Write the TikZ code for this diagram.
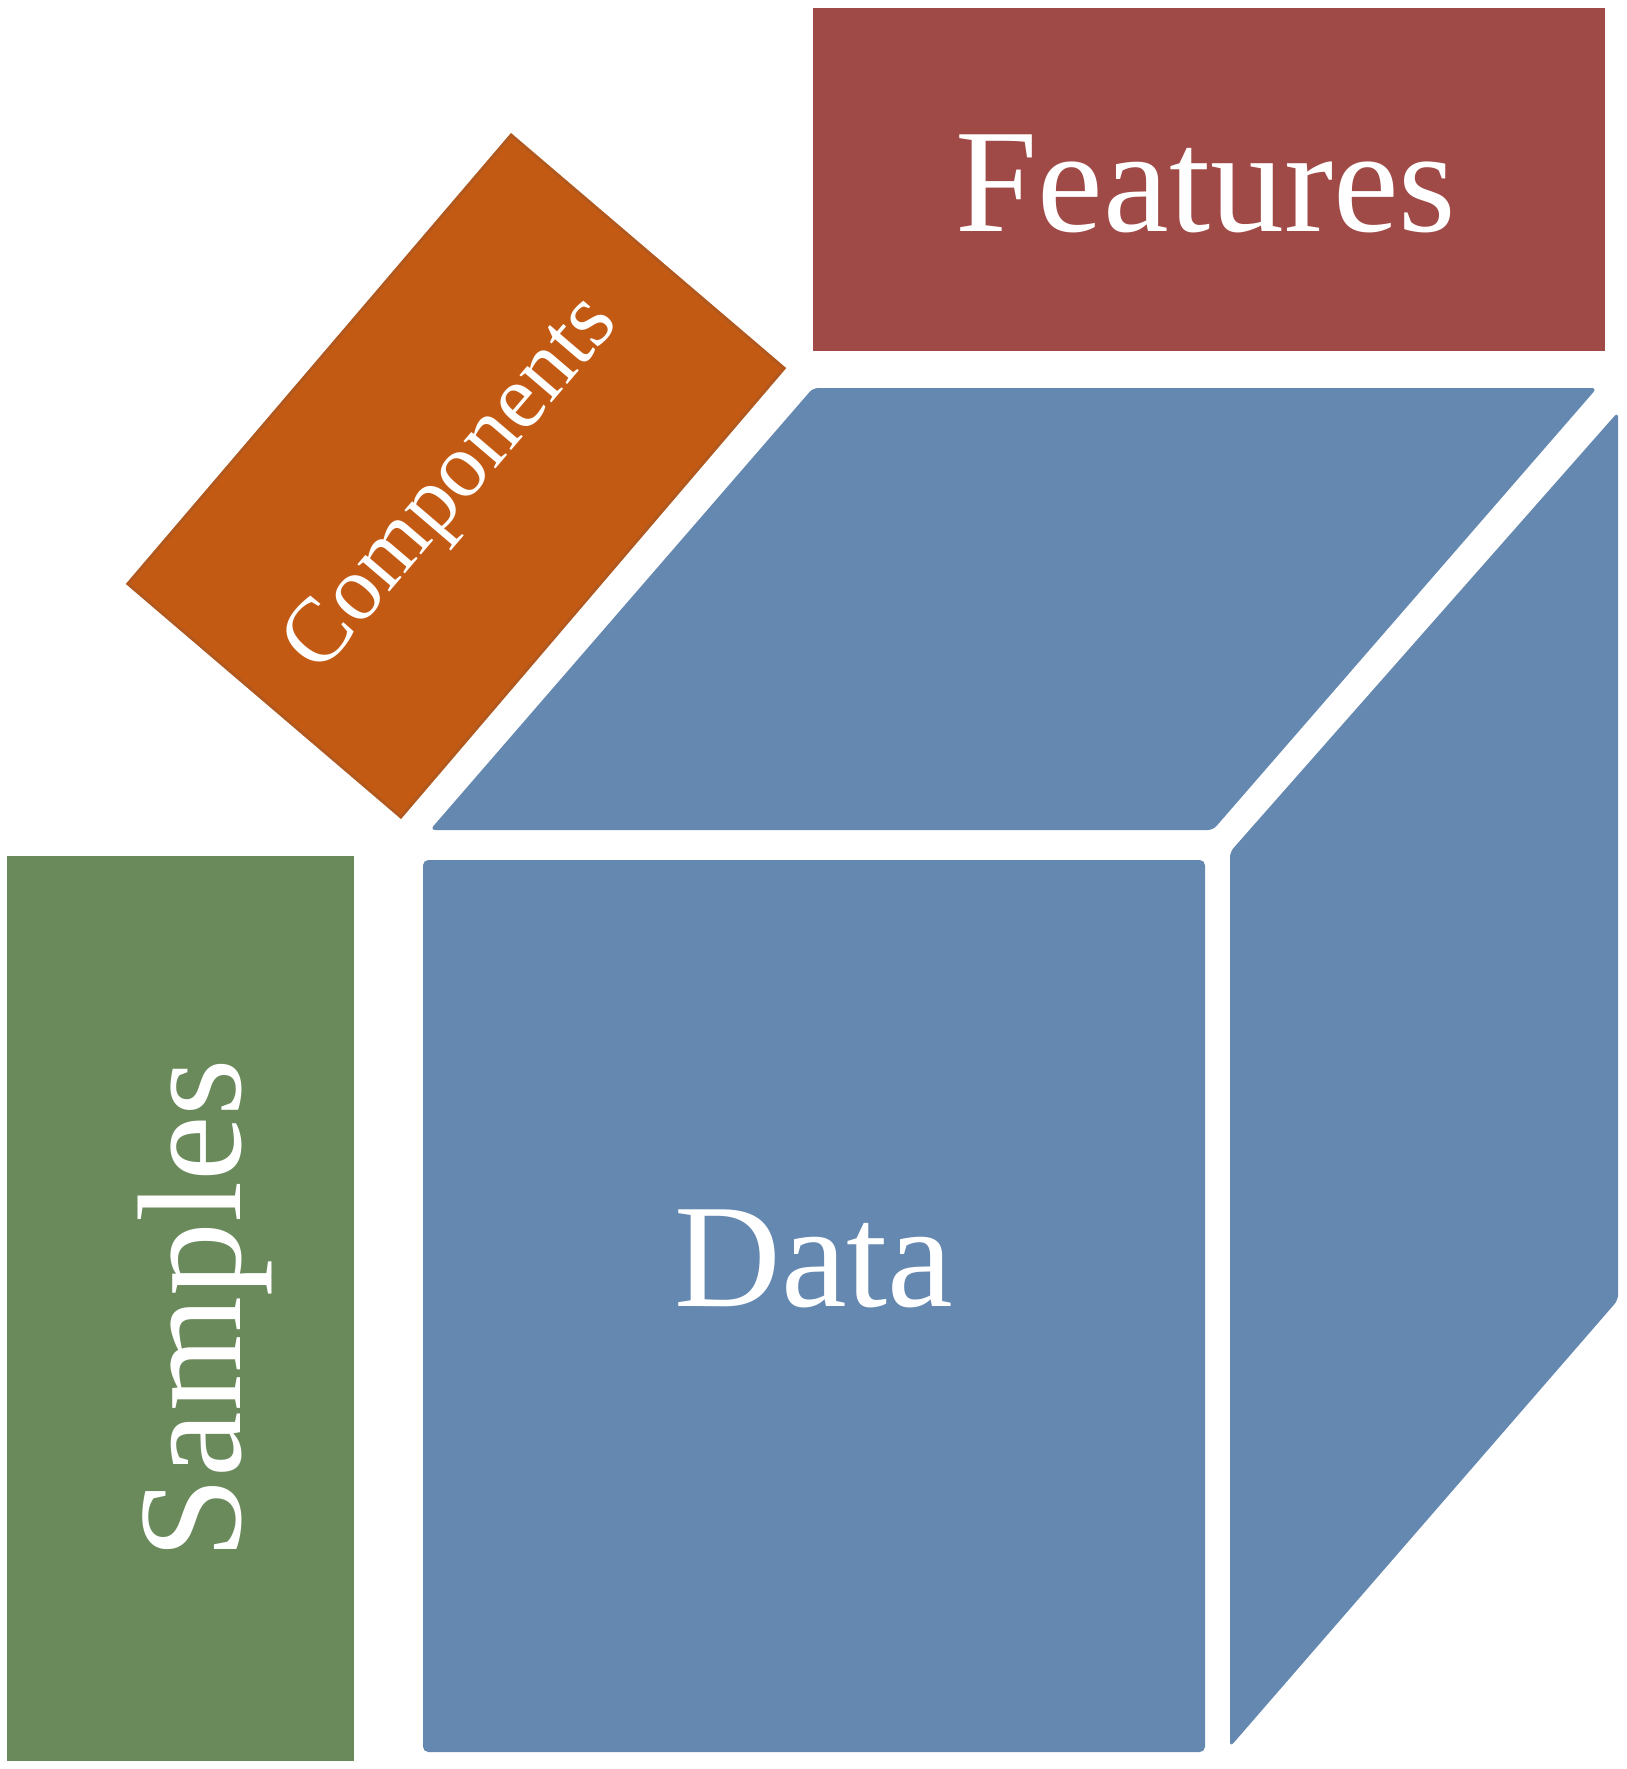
\documentclass[tikz,border=0pt]{standalone}
\usepackage{fontspec}
\setmainfont{Liberation Serif}
\definecolor{featred}{HTML}{A04A48}
\definecolor{comporange}{HTML}{C35A14}
\definecolor{compedge}{HTML}{B0581E}
\definecolor{cubeblue}{HTML}{6488B0}
\definecolor{sampgreen}{HTML}{6A8A5C}
\tikzset{
  face/.style={fill=cubeblue, draw=none, rounded corners=1.5pt},
  label box/.style={draw=none, inner sep=0pt, text=white},
  big text/.style={font=\fontsize{42}{50}\selectfont},
}
\begin{document}
\begin{tikzpicture}[x=0.01cm, y=-0.01cm]
\useasboundingbox (0,0) rectangle (1627,1769);
% cube faces
\fill[face] (813,388) -- (1597,388) -- (1213,830) -- (430,830) -- cycle;
\fill[face] (1230,852) -- (1618,412) -- (1618,1300) -- (1230,1747) -- cycle;
\fill[face] (423,860) rectangle (1205,1752);
% label boxes
\node[label box, fill=featred, anchor=north west,
      minimum width=7.92cm, minimum height=3.43cm] (featbox) at (812,7) {};
\node[label box, big text] (features) at (1206,184) {Features};
\node[label box, fill=comporange, draw=compedge, line width=0.8pt, rotate=49.5,
      minimum width=5.9cm, minimum height=3.59cm] (compbox) at (456,476) {};
\node[label box, rotate=49.5, font=\fontsize{26}{31}\selectfont] (components) at (454,486) {Components};
\node[label box, fill=sampgreen, anchor=north west,
      minimum width=3.47cm, minimum height=9.05cm] (sampbox) at (6,855) {};
\node[label box, big text, rotate=90] (samples) at (205,1309) {Samples};
\node[label box, big text] (data) at (814,1259) {Data};
\end{tikzpicture}
\end{document}
